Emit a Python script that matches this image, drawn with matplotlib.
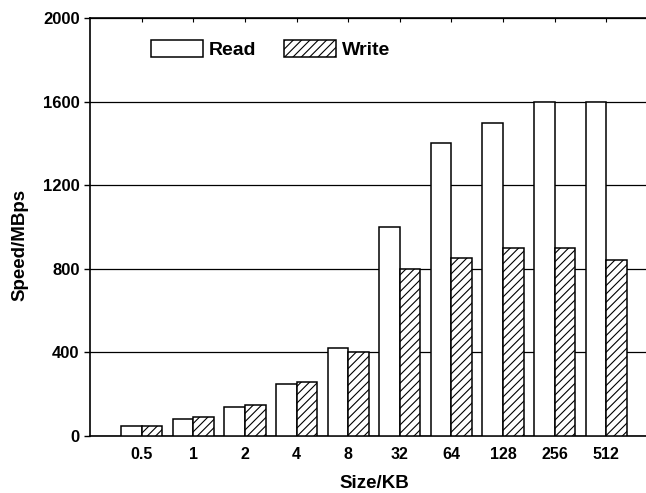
# Read/Write speed by block size

import numpy as np
import matplotlib
matplotlib.use("Agg")
import matplotlib.pyplot as plt

# Data
sizes = ["0.5", "1", "2", "4", "8", "32", "64", "128", "256", "512"]
read_speed = [50, 80, 140, 250, 420, 1000, 1400, 1500, 1600, 1600]
write_speed = [50, 90, 150, 260, 400, 800, 850, 900, 900, 840]
y_ticks = [0, 400, 800, 1200, 1600, 2000]

plt.rcParams['font.family'] = ['Liberation Sans', 'DejaVu Sans']
plt.rcParams['font.weight'] = 'bold'
plt.rcParams['hatch.linewidth'] = 0.8

fig = plt.figure(figsize=(6.46, 4.93), dpi=100)
# axes run past the right edge, like the cropped original
ax = fig.add_axes([90 / 646, (493 - 436) / 493, 568 / 646, 418 / 493])

x = np.arange(len(sizes))
w = 0.4
ax.bar(x - w / 2, read_speed, w, color='white', edgecolor='black',
       linewidth=1.1, label='Read', zorder=3)
ax.bar(x + w / 2, write_speed, w, color='white', edgecolor='black',
       linewidth=1.1, hatch='////', label='Write', zorder=3)

ax.set_xlim(-1, 10)
ax.set_ylim(0, 2000)
ax.set_yticks(y_ticks)
ax.set_xticks(x)
ax.set_xticklabels(sizes)
ax.yaxis.grid(True, color='black', linewidth=0.9)
ax.set_axisbelow(True)

ax.tick_params(axis='y', direction='out', length=4, labelsize=12, width=1)
ax.tick_params(axis='x', direction='in', length=3, labelsize=11.5, width=0.8,
               top=True, bottom=False, pad=8)
for s in ax.spines.values():
    s.set_linewidth(1.2)

ax.set_xlabel('Size/KB', fontsize=13.5, fontweight='bold', labelpad=9)
ax.set_ylabel('Speed/MBps', fontsize=13.5, fontweight='bold')
ax.yaxis.set_label_coords(-0.109, 0.457)

ax.legend(loc='upper left', bbox_to_anchor=(0.108, 0.948), ncol=2, frameon=False,
          fontsize=14, handlelength=2.67, handleheight=0.96, columnspacing=1.4,
          handletextpad=0.3, borderaxespad=0, borderpad=0)

fig.savefig('out.png', dpi=100)
